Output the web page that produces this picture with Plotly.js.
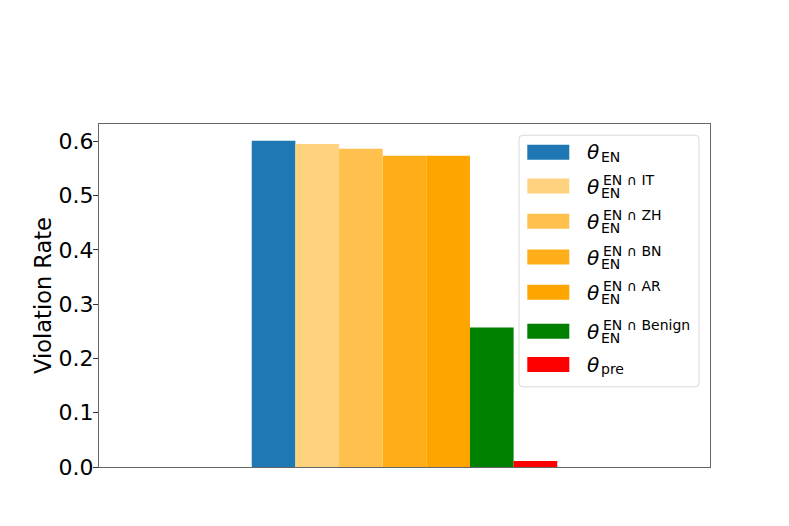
<!DOCTYPE html>
<html>
<head>
<meta charset="utf-8">
<script src="https://cdn.plot.ly/plotly-3.0.1.min.js"></script>
<style>
  body { margin: 0; background: #fff; }
  #myGraph { width: 789px; height: 526px; }
</style>
</head>
<body>
<div id="myGraph"></div>
<script>
// 資料
const group = ['EN'];
const subText = ['EN', 'EN', 'EN', 'EN', 'EN', 'EN', 'pre'];
const supText = ['', 'EN ∩ IT', 'EN ∩ ZH', 'EN ∩ BN', 'EN ∩ AR', 'EN ∩ Benign', ''];
const rates = [0.601, 0.595, 0.586, 0.573, 0.573, 0.257, 0.011];
const colors = ['#1f77b4', '#ffd280', '#ffc04d', '#ffae1a', '#ffa500', '#008000', '#ff0000'];

// 畫布尺寸 (px)
const W = 789, H = 526;
const L = 99, R = 710, T = 123.5, B = 467;
const px2x = p => (p - L) / (R - L);
const py2y = p => (B - p) / (B - T);

let myGraph = document.getElementById('myGraph');

let data = [];
for (let i = 0; i < rates.length; i++) {
    let name = 'θ<sub>' + subText[i] + '</sub>' + (supText[i] ? '<sup>' + supText[i] + '</sup>' : '');
    data.push({
        type: 'bar',
        name: name,
        x: group,
        y: [rates[i]],
        marker: { color: colors[i], line: { width: 0 } },
        showlegend: false
    });
}

// 自製圖例 (上下標堆疊)
const rowCenters = [151.7, 185.7, 221, 256.7, 292, 331, 364.3];
let shapes = [];
let annotations = [];

const bx0 = 519, bx1 = 699, by0 = 134.7, by1 = 386.7, rad = 4;
const rx = rad / (R - L), ry = rad / (B - T);
const X0 = px2x(bx0), X1 = px2x(bx1), Y0 = py2y(by1), Y1 = py2y(by0);
shapes.push({
    type: 'path', xref: 'paper', yref: 'paper', layer: 'above',
    path: `M ${X0 + rx} ${Y0} L ${X1 - rx} ${Y0} Q ${X1} ${Y0} ${X1} ${Y0 + ry} L ${X1} ${Y1 - ry} Q ${X1} ${Y1} ${X1 - rx} ${Y1} L ${X0 + rx} ${Y1} Q ${X0} ${Y1} ${X0} ${Y1 - ry} L ${X0} ${Y0 + ry} Q ${X0} ${Y0} ${X0 + rx} ${Y0} Z`,
    fillcolor: 'rgba(255,255,255,0.8)',
    line: { color: '#d9d9d9', width: 1 }
});

for (let i = 0; i < rates.length; i++) {
    let c = rowCenters[i];
    shapes.push({
        type: 'rect', xref: 'paper', yref: 'paper', layer: 'above',
        x0: px2x(527.3), x1: px2x(569.3), y0: py2y(c + 7.5), y1: py2y(c - 7.5),
        fillcolor: colors[i], line: { width: 0 }
    });
    let hasSup = supText[i] !== '';
    annotations.push({
        xref: 'paper', yref: 'paper', x: px2x(585.5), y: py2y(c + (hasSup ? 1 : 0.3)),
        xanchor: 'left', yanchor: 'middle', showarrow: false, borderpad: 0,
        text: '<i>θ</i>', font: { size: 20 }
    });
    annotations.push({
        xref: 'paper', yref: 'paper', x: px2x(599.5), y: py2y(c + (hasSup ? 7 : 5)),
        xanchor: 'left', yanchor: 'middle', showarrow: false, borderpad: 0,
        text: subText[i], font: { size: 14 }
    });
    if (hasSup) {
        annotations.push({
            xref: 'paper', yref: 'paper', x: px2x(601.5), y: py2y(c - 6),
            xanchor: 'left', yanchor: 'middle', showarrow: false, borderpad: 0,
            text: supText[i], font: { size: 14 }
        });
    }
}

let layout = {
    width: W,
    height: H,
    margin: { l: L, r: W - R, t: T, b: H - B, pad: 0 },
    paper_bgcolor: '#fff',
    plot_bgcolor: '#fff',
    font: { family: 'DejaVu Sans', color: '#000', size: 22 },
    barmode: 'group',
    bargap: 0.5,
    bargroupgap: 0,
    showlegend: false,
    xaxis: {
        type: 'category',
        range: [-0.5, 0.5],
        showticklabels: false,
        ticks: '',
        showgrid: false,
        zeroline: false,
        showline: true,
        mirror: true,
        linecolor: '#666',
        linewidth: 1
    },
    yaxis: {
        range: [0, 0.6317],
        dtick: 0.1,
        tick0: 0,
        tickformat: '.1f',
        ticks: 'outside',
        ticklen: 5,
        tickwidth: 1,
        tickcolor: '#333',
        ticklabelstandoff: -5,
        showgrid: false,
        zeroline: false,
        showline: true,
        mirror: true,
        linecolor: '#666',
        linewidth: 1,
        title: { text: 'Violation Rate', standoff: 0, font: { size: 22.5 } }
    },
    shapes: shapes,
    annotations: annotations
};

Plotly.newPlot(myGraph, data, layout, { displayModeBar: false });
</script>
</body>
</html>
